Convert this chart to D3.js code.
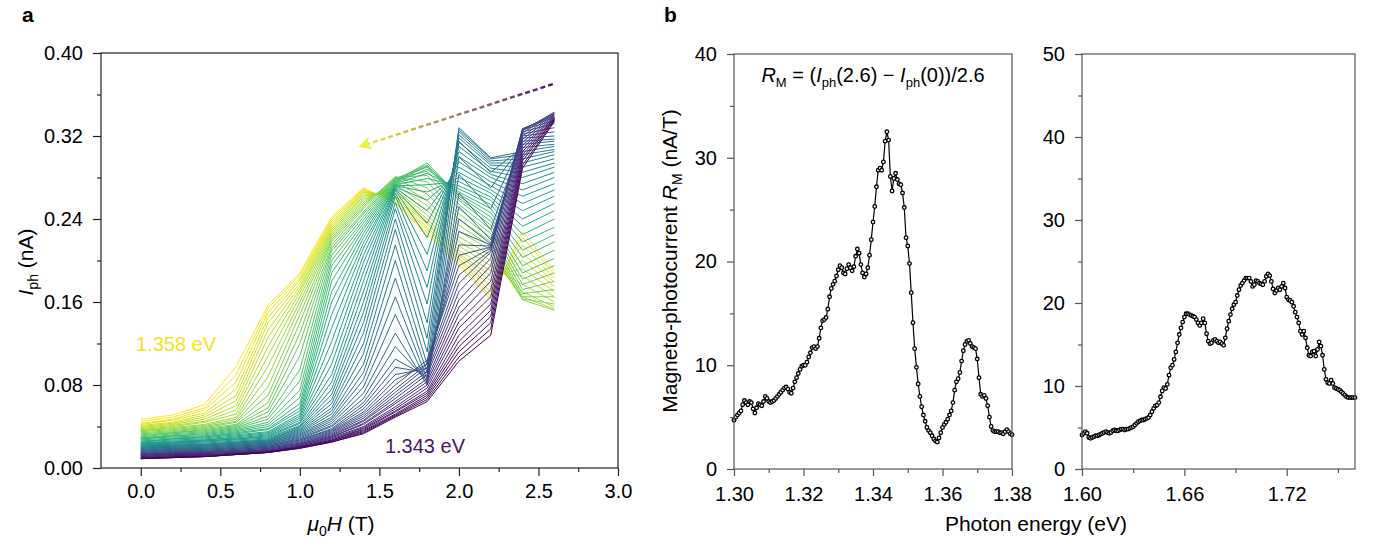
<!DOCTYPE html>
<html>
<head>
<meta charset="utf-8">
<script src="https://cdn.jsdelivr.net/npm/d3@7"></script>
<style>
    body { margin: 0; background: #fff; }
    svg text { font-family: "Liberation Sans", Arial, sans-serif; }
</style>
</head>
<body>
<div id="chart"></div>
<script>
// ---- panel a: Iph vs field, one curve per photon energy ----
const fields = [0, 0.2, 0.4, 0.6, 0.8, 1.0, 1.2, 1.4, 1.6, 1.8, 2.0, 2.2, 2.4, 2.6];
const energies = [
    1.34300, 1.34325, 1.34350, 1.34375, 1.34400, 1.34425, 1.34450, 1.34475, 1.34500, 1.34525,
    1.34550, 1.34575, 1.34600, 1.34625, 1.34650, 1.34675, 1.34700, 1.34725, 1.34750, 1.34775,
    1.34800, 1.34825, 1.34850, 1.34875, 1.34900, 1.34925, 1.34950, 1.34975, 1.35000, 1.35025,
    1.35050, 1.35075, 1.35100, 1.35125, 1.35150, 1.35175, 1.35200, 1.35225, 1.35250, 1.35275,
    1.35300, 1.35325, 1.35350, 1.35375, 1.35400, 1.35425, 1.35450, 1.35475, 1.35500, 1.35525,
    1.35550, 1.35575, 1.35600, 1.35625, 1.35650, 1.35675, 1.35700, 1.35725, 1.35750, 1.35775,
    1.35800
];
// Iph in pA: one row per field, one column per energy (1.343 -> 1.358 eV)
const iphRows = [
    [9, 9, 9, 9, 10, 10, 11, 11, 12, 12, 13, 13, 13, 13, 14, 14, 15, 15, 16, 16, 17, 17, 18, 18, 19, 19, 20, 20, 21, 21,
        22, 22, 23, 23, 24, 24, 25, 25, 26, 27, 28, 28, 29, 29, 30, 31, 32, 33, 34, 35, 36, 36, 37, 38, 39, 40, 41, 42, 43, 45, 47],
    [10, 10, 10, 11, 11, 12, 12, 13, 13, 14, 14, 14, 14, 15, 15, 16, 16, 17, 17, 18, 18, 19, 19, 20, 20, 21, 21, 22, 22, 23,
        23, 24, 24, 25, 25, 26, 27, 28, 28, 29, 30, 31, 31, 32, 33, 34, 34, 35, 36, 37, 38, 39, 40, 41, 42, 43, 44, 46, 47, 49, 51],
    [11, 11, 11, 11, 12, 12, 13, 13, 14, 14, 15, 15, 15, 15, 16, 16, 17, 17, 18, 18, 19, 19, 20, 20, 21, 21, 22, 22, 23, 23,
        24, 25, 26, 26, 27, 27, 28, 29, 30, 30, 31, 32, 33, 34, 35, 36, 37, 38, 39, 40, 41, 42, 44, 45, 47, 49, 51, 53, 56, 58, 61],
    [13, 13, 13, 13, 14, 14, 14, 14, 15, 15, 16, 16, 17, 17, 18, 18, 19, 19, 20, 20, 21, 21, 22, 22, 23, 23, 24, 24, 25, 25,
        26, 27, 28, 28, 29, 30, 31, 32, 33, 34, 35, 36, 37, 38, 39, 40, 41, 42, 44, 45, 47, 49, 52, 56, 60, 65, 70, 76, 83, 90, 98],
    [15, 15, 15, 15, 16, 16, 16, 16, 17, 17, 18, 18, 19, 19, 20, 20, 21, 21, 22, 22, 23, 23, 24, 24, 25, 25, 26, 26, 27, 27,
        28, 29, 30, 31, 32, 33, 34, 35, 37, 38, 40, 42, 44, 47, 50, 54, 58, 63, 70, 78, 88, 98, 108, 117, 126, 133, 140, 145, 150, 154, 157],
    [19, 19, 20, 20, 20, 20, 21, 21, 22, 22, 23, 23, 24, 24, 25, 26, 27, 27, 28, 29, 30, 31, 32, 33, 34, 35, 36, 37, 38, 39,
        40, 41, 43, 44, 46, 48, 50, 52, 55, 58, 62, 68, 75, 84, 95, 108, 120, 130, 140, 148, 155, 160, 165, 169, 172, 175, 178, 181, 183, 186, 188],
    [25, 25, 26, 26, 27, 27, 28, 29, 30, 30, 31, 32, 33, 34, 35, 36, 37, 38, 40, 41, 43, 45, 47, 49, 52, 55, 58, 62, 66, 71,
        76, 83, 90, 100, 110, 122, 135, 148, 160, 170, 180, 188, 195, 200, 205, 209, 212, 215, 218, 220, 222, 224, 226, 228, 230, 232, 234, 236, 238, 240, 242],
    [33, 34, 35, 36, 37, 38, 39, 40, 42, 43, 45, 46, 48, 50, 52, 54, 57, 60, 63, 67, 72, 78, 85, 92, 100, 110, 120, 130, 140, 150,
        160, 170, 180, 189, 198, 205, 212, 217, 222, 226, 230, 233, 236, 239, 242, 245, 247, 250, 252, 254, 256, 258, 260, 262, 263, 265, 266, 267, 268, 269, 270],
    [49, 50, 51, 52, 54, 55, 57, 59, 62, 64, 67, 70, 73, 76, 80, 85, 90, 97, 105, 117, 130, 148, 165, 183, 200, 215, 230, 240, 250, 256,
        262, 265, 268, 269, 270, 271, 272, 272, 273, 274, 275, 276, 277, 278, 279, 279, 280, 280, 281, 279, 276, 273, 270, 268, 266, 264, 262, 260, 258, 256, 255],
    [64, 66, 68, 70, 72, 74, 77, 80, 83, 86, 90, 93, 97, 100, 104, 100, 96, 92, 88, 84, 80, 82, 86, 92, 100, 112, 125, 140, 158, 174,
        190, 206, 222, 236, 248, 258, 266, 273, 279, 284, 288, 291, 294, 292, 290, 286, 282, 276, 270, 264, 258, 253, 248, 244, 240, 237, 235, 232, 230, 227, 225],
    [103, 107, 112, 117, 122, 128, 135, 141, 148, 155, 162, 170, 178, 186, 195, 205, 215, 228, 240, 252, 265, 283, 300, 315, 328, 326, 324, 321, 318, 314,
        310, 305, 300, 295, 290, 285, 280, 276, 272, 269, 266, 264, 262, 260, 258, 254, 250, 245, 240, 234, 228, 223, 218, 214, 210, 207, 205, 202, 200, 197, 195],
    [128, 134, 140, 146, 152, 158, 165, 172, 180, 188, 195, 202, 208, 210, 212, 213, 214, 215, 216, 220, 230, 250, 270, 285, 299, 298, 296, 294, 292, 289,
        286, 283, 280, 276, 272, 268, 265, 261, 258, 254, 250, 246, 242, 238, 234, 230, 226, 222, 218, 214, 210, 205, 200, 195, 190, 185, 180, 175, 170, 166, 163],
    [289, 292, 296, 299, 302, 305, 308, 311, 314, 317, 320, 323, 325, 326, 327, 327, 326, 324, 322, 320, 318, 315, 312, 309, 305, 302, 298, 294, 290, 285,
        280, 274, 268, 262, 255, 248, 240, 233, 225, 218, 210, 203, 195, 188, 182, 177, 172, 168, 165, 163, 162, 165, 170, 177, 185, 192, 200, 207, 215, 222, 228],
    [334, 335, 336, 336, 337, 337, 338, 338, 339, 340, 341, 342, 343, 342, 340, 338, 335, 332, 328, 324, 320, 317, 315, 312, 310, 307, 305, 302, 298, 294,
        290, 285, 280, 274, 268, 262, 255, 248, 240, 232, 225, 218, 210, 202, 195, 188, 180, 172, 165, 158, 152, 153, 155, 160, 165, 170, 175, 179, 183, 187, 190]
];
const aXTicks = [0, 0.5, 1.0, 1.5, 2.0, 2.5, 3.0];
const aXMinor = [0.25, 0.75, 1.25, 1.75, 2.25, 2.75];
const aYTicks = [0, 0.08, 0.16, 0.24, 0.32, 0.40];
const aYMinor = [0.04, 0.12, 0.20, 0.28, 0.36];

// ---- panel b: magneto-photocurrent spectra ----
const rmLowStart = 1.300, rmLowStep = 0.0005;
const rmLow = [
    4.7, 5.0, 5.2, 5.4, 5.6, 6.2, 6.6, 6.4, 6.2, 6.5,
    6.4, 5.8, 5.4, 5.9, 6.3, 6.2, 6.1, 6.5, 7.0, 6.8,
    6.5, 6.4, 6.5, 6.6, 6.8, 7.0, 7.2, 7.4, 7.6, 7.8,
    7.9, 7.7, 7.4, 7.3, 7.8, 8.4, 8.8, 9.2, 9.6, 9.9,
    10.0, 10.0, 10.3, 10.8, 11.2, 11.7, 11.8, 11.6, 11.8, 12.6,
    13.6, 14.3, 14.4, 14.6, 15.4, 16.6, 17.4, 17.8, 18.1, 18.6,
    19.2, 19.6, 19.4, 18.9, 18.8, 19.3, 19.7, 19.4, 19.1, 19.5,
    20.5, 21.2, 20.8, 19.7, 18.9, 18.5, 18.8, 19.4, 20.6, 22.1,
    23.8, 25.3, 27.2, 28.8, 29.0, 28.8, 29.6, 31.6, 32.5, 31.7,
    28.2, 26.8, 28.0, 28.5, 27.9, 27.5, 27.4, 26.6, 25.2, 22.3,
    21.5, 19.8, 17.0, 14.1, 11.6, 9.8, 8.2, 7.0, 6.0, 5.2,
    4.6, 4.0, 3.7, 3.5, 3.2, 2.9, 2.7, 2.6, 3.0, 3.5,
    4.0, 4.3, 4.5, 4.8, 5.2, 5.6, 6.4, 7.6, 8.4, 8.7,
    9.3, 10.4, 11.4, 12.0, 12.3, 12.4, 12.1, 11.8, 11.7, 11.6,
    10.6, 8.8, 7.2, 7.0, 7.1, 6.8, 6.1, 5.0, 4.1, 3.7,
    3.6, 3.6, 3.6, 3.5, 3.5, 3.4, 3.6, 3.8, 3.6, 3.4,
    3.3
];
const rmHighStart = 1.600, rmHighStep = 0.001;
const rmHigh = [
    4.1, 4.3, 4.5, 4.3, 3.8, 3.7, 3.8, 3.9, 4.0, 4.0,
    4.1, 4.2, 4.3, 4.4, 4.5, 4.4, 4.3, 4.4, 4.6, 4.7,
    4.6, 4.6, 4.7, 4.8, 4.8, 4.7, 4.8, 4.8, 4.9, 5.0,
    5.1, 5.3, 5.5, 5.7, 5.8, 5.9, 5.9, 6.0, 6.1, 6.2,
    6.5, 6.9, 7.3, 7.6, 7.7, 8.0, 8.7, 9.4, 9.8, 9.7,
    10.2, 11.3, 12.2, 12.5, 13.2, 14.1, 15.2, 16.2, 17.0, 17.7,
    18.3, 18.7, 18.7, 18.6, 18.5, 18.4, 18.3, 18.0, 17.6, 17.3,
    17.6, 18.1, 17.6, 16.3, 15.4, 15.1, 15.2, 15.5, 15.6, 15.4,
    15.2, 15.3, 15.1, 14.9, 15.8, 16.9, 17.8, 18.6, 19.3, 19.8,
    20.1, 20.9, 21.6, 22.1, 22.4, 22.7, 23.0, 23.0, 23.0, 22.6,
    22.0, 22.2, 22.7, 22.6, 22.4, 22.3, 22.2, 22.6, 23.2, 23.5,
    23.3, 22.6, 21.7, 21.2, 21.5, 21.8, 21.6, 22.0, 22.4, 21.8,
    20.7, 20.4, 20.3, 20.1, 19.6, 18.9, 18.3, 17.6, 16.6, 16.2,
    16.6, 15.8, 14.6, 13.7, 13.6, 14.1, 14.2, 13.6, 14.4, 15.3,
    14.8, 13.7, 12.0, 10.8, 10.4, 10.3, 10.7, 10.3, 9.8, 9.7,
    9.6, 9.5, 9.3, 9.1, 8.9, 8.7, 8.6, 8.6, 8.6, 8.6,
    8.6
];
const bLowXTicks = [1.30, 1.32, 1.34, 1.36, 1.38];
const bLowXMinor = [1.31, 1.33, 1.35, 1.37];
const bLowYTicks = [0, 10, 20, 30, 40];
const bLowYMinor = [5, 15, 25, 35];
const bHighXTicks = [1.60, 1.66, 1.72];
const bHighXMinor = [1.63, 1.69, 1.75];
const bHighYTicks = [0, 10, 20, 30, 40, 50];
const bHighYMinor = [5, 15, 25, 35, 45];

const svg = d3.select("#chart").append("svg").attr("width", 1374).attr("height", 546);

function addAxes(g, x, y, box, o) {
    g.append("g").attr("transform", `translate(0,${box.bottom})`)
        .call(d3.axisBottom(x).tickValues(o.xMinor).tickSize(4).tickSizeOuter(0).tickFormat(""));
    g.append("g").attr("transform", `translate(0,${box.bottom})`)
        .call(d3.axisBottom(x).tickValues(o.xTicks).tickSize(o.tick).tickSizeOuter(0)
            .tickPadding(o.xPad).tickFormat(o.xFmt));
    g.append("g").attr("transform", `translate(${box.left},0)`)
        .call(d3.axisLeft(y).tickValues(o.yMinor).tickSize(4).tickSizeOuter(0).tickFormat(""));
    g.append("g").attr("transform", `translate(${box.left},0)`)
        .call(d3.axisLeft(y).tickValues(o.yTicks).tickSize(o.tick).tickSizeOuter(0)
            .tickPadding(o.yPad).tickFormat(o.yFmt));
    g.selectAll(".domain").remove();
    g.selectAll(".tick line").attr("stroke", o.stroke).attr("stroke-width", 1.2);
    g.selectAll(".tick text").attr("font-size", 20).attr("fill", "#000");
    g.append("rect")
        .attr("x", box.left).attr("y", box.top)
        .attr("width", box.right - box.left).attr("height", box.bottom - box.top)
        .attr("fill", "none").attr("stroke", o.stroke).attr("stroke-width", 1.2);
}

// ---------- panel a ----------
class FanVis {
    constructor(_svg, _box) {
        this.svg = _svg;
        this.box = _box;
        this.initVis();
    }

    initVis() {
        let vis = this;
        vis.g = vis.svg.append("g");
        vis.x = d3.scaleLinear().domain([-0.25, 3.0]).range([vis.box.left, vis.box.right]);
        vis.y = d3.scaleLinear().domain([0, 0.40]).range([vis.box.bottom, vis.box.top]);
        vis.color = d3.scaleSequential(d3.interpolateViridis)
            .domain([energies[0], energies[energies.length - 1]]);

        vis.curves = energies.map((e, j) => ({
            e: e,
            pts: fields.map((h, i) => ({ h: h, v: iphRows[i][j] / 1000 }))
        }));

        let line = d3.line().x(d => vis.x(d.h)).y(d => vis.y(d.v));

        // high energy first so the purple curves end up on top
        vis.g.append("g").selectAll("path")
            .data(vis.curves.slice().reverse())
            .enter().append("path")
            .attr("d", d => line(d.pts))
            .attr("fill", "none")
            .attr("stroke", d => vis.color(d.e))
            .attr("stroke-width", 1.0)
            .attr("stroke-linejoin", "round");

        // dashed arrow purple -> yellow
        let p0 = [vis.x(2.59), vis.y(0.370)], p1 = [vis.x(1.40), vis.y(0.311)];
        let defs = vis.svg.append("defs");
        let grad = defs.append("linearGradient").attr("id", "arrowGrad")
            .attr("gradientUnits", "userSpaceOnUse")
            .attr("x1", p0[0]).attr("y1", p0[1]).attr("x2", p1[0]).attr("y2", p1[1]);
        grad.append("stop").attr("offset", 0).attr("stop-color", "#4a0f7c");
        grad.append("stop").attr("offset", 1).attr("stop-color", "#e8f23c");
        defs.append("marker").attr("id", "arrowHead")
            .attr("viewBox", "0 0 10 10").attr("refX", 6).attr("refY", 5)
            .attr("markerWidth", 6.5).attr("markerHeight", 5.5).attr("orient", "auto")
            .append("path").attr("d", "M0,0 L10,5 L0,10 L3,5 Z").attr("fill", "#e8f23c");
        vis.g.append("line")
            .attr("x1", p0[0]).attr("y1", p0[1]).attr("x2", p1[0]).attr("y2", p1[1])
            .attr("stroke", "url(#arrowGrad)").attr("stroke-width", 2.4)
            .attr("stroke-dasharray", "5,3")
            .attr("marker-end", "url(#arrowHead)");

        addAxes(vis.g, vis.x, vis.y, vis.box, {
            xTicks: aXTicks, xMinor: aXMinor, xFmt: d3.format(".1f"),
            yTicks: aYTicks, yMinor: aYMinor, yFmt: d3.format(".2f"),
            stroke: "#222", tick: 8, xPad: 8, yPad: 10
        });

        // energy labels
        vis.g.append("text").attr("x", vis.x(-0.03)).attr("y", vis.y(0.113))
            .attr("font-size", 20).attr("fill", "#f5e31f").text("1.358 eV");
        vis.g.append("text").attr("x", vis.x(1.535)).attr("y", vis.y(0.014))
            .attr("font-size", 20).attr("fill", "#481467").text("1.343 eV");

        // axis titles
        let xt = vis.g.append("text").attr("x", 341).attr("y", 531)
            .attr("text-anchor", "middle").attr("font-size", 21);
        xt.append("tspan").attr("font-style", "italic").text("μ");
        xt.append("tspan").attr("font-size", 14).attr("dy", 5).text("0");
        xt.append("tspan").attr("font-style", "italic").attr("dy", -5).text("H");
        xt.append("tspan").text(" (T)");

        let yt = vis.g.append("text").attr("transform", "translate(33,262) rotate(-90)")
            .attr("text-anchor", "middle").attr("font-size", 21);
        yt.append("tspan").attr("font-style", "italic").text("I");
        yt.append("tspan").attr("font-size", 14).attr("dy", 5).text("ph");
        yt.append("tspan").attr("dy", -5).text(" (nA)");

        vis.g.append("text").attr("x", 22).attr("y", 22)
            .attr("font-size", 21).attr("font-weight", "bold").text("a");
    }
}

// ---------- panel b ----------
class SpectrumVis {
    constructor(_svg, _box, _start, _step, _values, _xDomain, _yDomain, _ticks) {
        this.svg = _svg;
        this.box = _box;
        this.data = _values.map((v, i) => ({ e: _start + i * _step, v: v }));
        this.xDomain = _xDomain;
        this.yDomain = _yDomain;
        this.ticks = _ticks;
        this.initVis();
    }

    initVis() {
        let vis = this;
        vis.g = vis.svg.append("g");
        vis.x = d3.scaleLinear().domain(vis.xDomain).range([vis.box.left, vis.box.right]);
        vis.y = d3.scaleLinear().domain(vis.yDomain).range([vis.box.bottom, vis.box.top]);

        vis.g.append("path")
            .attr("d", d3.line().x(d => vis.x(d.e)).y(d => vis.y(d.v))(vis.data))
            .attr("fill", "none").attr("stroke", "#000").attr("stroke-width", 1.2);

        vis.g.append("g").selectAll("circle")
            .data(vis.data).enter().append("circle")
            .attr("cx", d => vis.x(d.e)).attr("cy", d => vis.y(d.v))
            .attr("r", 1.8)
            .attr("fill", "#fff").attr("stroke", "#000").attr("stroke-width", 1.3);

        addAxes(vis.g, vis.x, vis.y, vis.box, Object.assign({
            xFmt: d3.format(".2f"), yFmt: d3.format("d"),
            stroke: "#555", tick: 7, xPad: 11, yPad: 10
        }, vis.ticks));
    }
}

new FanVis(svg, { left: 101, right: 618, top: 53, bottom: 468 });

new SpectrumVis(svg, { left: 734, right: 1012, top: 54, bottom: 469 },
    rmLowStart, rmLowStep, rmLow, [1.30, 1.38], [0, 40],
    { xTicks: bLowXTicks, xMinor: bLowXMinor, yTicks: bLowYTicks, yMinor: bLowYMinor });

new SpectrumVis(svg, { left: 1082, right: 1355, top: 54, bottom: 469 },
    rmHighStart, rmHighStep, rmHigh, [1.60, 1.76], [0, 50],
    { xTicks: bHighXTicks, xMinor: bHighXMinor, yTicks: bHighYTicks, yMinor: bHighYMinor });

// panel b titles
let ft = svg.append("text").attr("x", 873).attr("y", 82)
    .attr("text-anchor", "middle").attr("font-size", 20);
ft.append("tspan").attr("font-style", "italic").text("R");
ft.append("tspan").attr("font-size", 13).attr("dy", 5).text("M");
ft.append("tspan").attr("dy", -5).text(" = (");
ft.append("tspan").attr("font-style", "italic").text("I");
ft.append("tspan").attr("font-size", 13).attr("dy", 5).text("ph");
ft.append("tspan").attr("dy", -5).text("(2.6) − ");
ft.append("tspan").attr("font-style", "italic").text("I");
ft.append("tspan").attr("font-size", 13).attr("dy", 5).text("ph");
ft.append("tspan").attr("dy", -5).text("(0))/2.6");

let by = svg.append("text").attr("transform", "translate(677,261) rotate(-90)")
    .attr("text-anchor", "middle").attr("font-size", 21);
by.append("tspan").text("Magneto-photocurrent ");
by.append("tspan").attr("font-style", "italic").text("R");
by.append("tspan").attr("font-size", 14).attr("dy", 5).text("M");
by.append("tspan").attr("dy", -5).text(" (nA/T)");

svg.append("text").attr("x", 1036).attr("y", 531)
    .attr("text-anchor", "middle").attr("font-size", 21).text("Photon energy (eV)");

svg.append("text").attr("x", 664).attr("y", 22)
    .attr("font-size", 21).attr("font-weight", "bold").text("b");
</script>
</body>
</html>
